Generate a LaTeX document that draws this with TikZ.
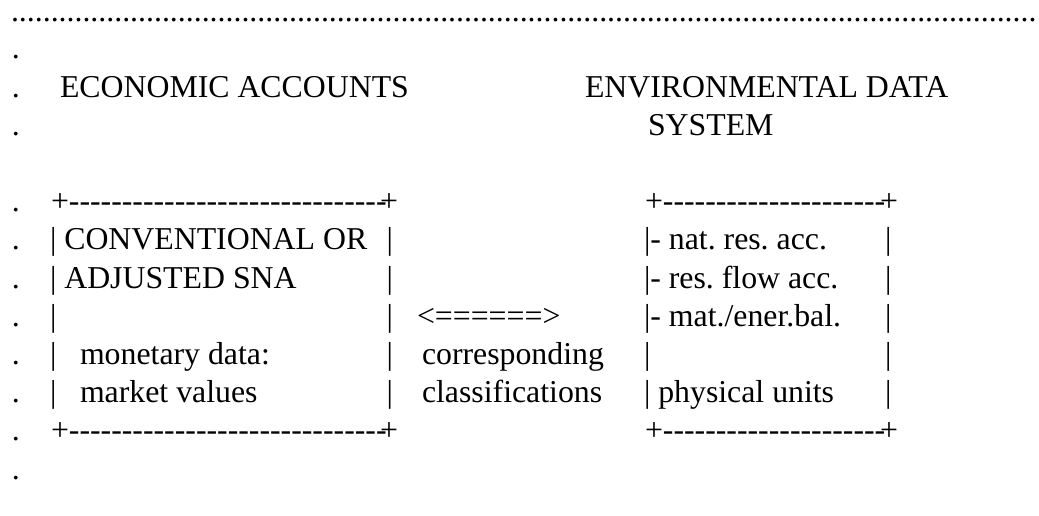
\documentclass[tikz,border=0pt]{standalone}
\usepackage{fontspec}
\setmainfont{Liberation Serif}[Ligatures=TeXOff]
\frenchspacing
\begin{document}
\begin{tikzpicture}[x=1pt,y=-1pt,
  txt/.style={anchor=base west,inner sep=0pt,outer sep=0pt,
    font=\fontsize{31.8}{38.2}\selectfont}]
\useasboundingbox (0,0) rectangle (1039,515);
% row baselines
\def\ra{21.5}\def\rb{58.8}\def\rc{97}\def\rd{135.2}
\def\rf{211.6}\def\rg{249.8}\def\rh{288}\def\ri{326.2}
\def\rj{364.4}\def\rk{402.6}\def\rl{440.8}\def\rm{479}
% dotted rule across the top
\node[txt] (rule) at (11,\ra) {\foreach\i in {1,...,129}{.}};
% margin dots
\foreach \y/\n in {\rb/1,\rc/2,\rd/3,\rf/5,\rg/6,\rh/7,\ri/8,\rj/9,\rk/10,\rl/11,\rm/12}
  \node[txt] (m\n) at (12,\y) {.};
% headings
\node[txt] (econ) at (60,\rc) {ECONOMIC ACCOUNTS};
\node[txt] (envA) at (585,\rc) {ENVIRONMENTAL DATA};
\node[txt] (envB) at (648,\rd) {SYSTEM};
% left box: top and bottom edges
\foreach \y/\n in {\rf/top,\rl/bot}{
  \node[txt] (l\n) at (51,\y) {+------------------------------};
  \node[txt] (l\n e) at (380,\y) {+};
}
\node[txt] (l1) at (50,\rg) {| CONVENTIONAL OR};
\node[txt] (l2) at (50,\rh) {| ADJUSTED SNA};
\node[txt] (l3) at (50,\ri) {|};
\node[txt] (l4) at (50,\rj) {|};
\node[txt] (l4t) at (80,\rj) {monetary data:};
\node[txt] (l5) at (50,\rk) {|};
\node[txt] (l5t) at (80,\rk) {market values};
\foreach \y/\n in {\rg/1,\rh/2,\ri/3,\rj/4,\rk/5}
  \node[txt] (lr\n) at (386.5,\y) {|};
% link between the two boxes
\node[txt] (link) at (417,\ri) {<======>};
\node[txt] (corrA) at (422,\rj) {corresponding};
\node[txt] (corrB) at (422,\rk) {classifications};
% right box: top and bottom edges
\foreach \y/\n in {\rf/top,\rl/bot}{
  \node[txt] (r\n) at (645,\y) {+---------------------};
  \node[txt] (r\n e) at (880,\y) {+};
}
\node[txt] (r1) at (644,\rg) {|- nat. res. acc.};
\node[txt] (r2) at (644,\rh) {|- res. flow acc.};
\node[txt] (r3) at (644,\ri) {|- mat./ener.bal.};
\node[txt] (r4) at (644,\rj) {|};
\node[txt] (r5) at (644,\rk) {| physical units};
\foreach \y/\n in {\rg/1,\rh/2,\ri/3,\rj/4,\rk/5}
  \node[txt] (rr\n) at (885,\y) {|};
\end{tikzpicture}
\end{document}
